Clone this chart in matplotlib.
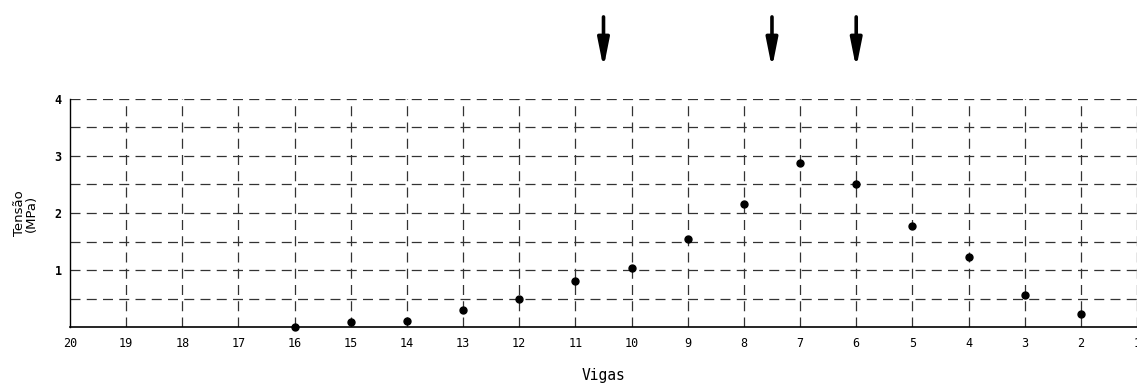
import matplotlib
matplotlib.use("Agg")
import matplotlib.pyplot as plt
import numpy as np

# beam number (viga) and measured stress in MPa
vigas = [16, 15, 14, 13, 12, 11, 10, 9, 8, 7, 6, 5, 4, 3, 2]
tensao = [0.0, 0.08, 0.11, 0.29, 0.50, 0.80, 1.04, 1.54, 2.15, 2.88, 2.51, 1.78, 1.22, 0.56, 0.22]

# load positions (arrows above the chart)
cargas = [10.5, 7.5, 6.0]

x_ticks = list(range(20, 0, -1))
y_ticks = [1, 2, 3, 4]

plt.rcParams['font.family'] = ['DejaVu Sans Mono', 'DejaVu Sans']

fig = plt.figure(figsize=(11.37, 3.83), dpi=100)
ax = fig.add_axes([70 / 1137, 1 - 327 / 383, 1 - 70 / 1137, 228 / 383])

ax.set_xlim(20, 1.0)
ax.set_ylim(0, 4)

# dashed grid
for y in np.arange(0.5, 4.01, 0.5):
    ax.axhline(y, color='#333333', lw=0.9, dashes=(8, 5), zorder=1)
for x in x_ticks[1:]:
    ax.axvline(x, color='#333333', lw=0.9, dashes=(8, 5), zorder=1)

ax.plot(vigas, tensao, 'o', color='black', markersize=5, zorder=3, clip_on=False)

for c in cargas:
    ax.annotate('', xy=(c, 1.135), xytext=(c, 1.36),
                xycoords=ax.get_xaxis_transform(),
                arrowprops=dict(arrowstyle='-|>,head_length=0.85,head_width=0.17',
                                lw=2.6, color='black',
                                mutation_scale=20, shrinkA=0, shrinkB=0),
                annotation_clip=False)

ax.set_xticks(x_ticks)
ax.set_xticklabels([str(v) for v in x_ticks])
ax.set_yticks(y_ticks)
ax.set_yticklabels([str(v) for v in y_ticks], fontweight='bold')
ax.tick_params(length=0, labelsize=8.5, pad=6)
ax.tick_params(axis='x', pad=7)

for s in ['top', 'right']:
    ax.spines[s].set_visible(False)
ax.spines['left'].set_linewidth(1.0)
ax.spines['bottom'].set_linewidth(1.2)

ax.set_xlabel('Vigas', fontsize=10.5, labelpad=13)
ax.set_ylabel('Tensão\n(MPa)', fontsize=9.5, labelpad=12, linespacing=0.9,
              family=['DejaVu Sans'])

fig.savefig('out.png', dpi=100)
